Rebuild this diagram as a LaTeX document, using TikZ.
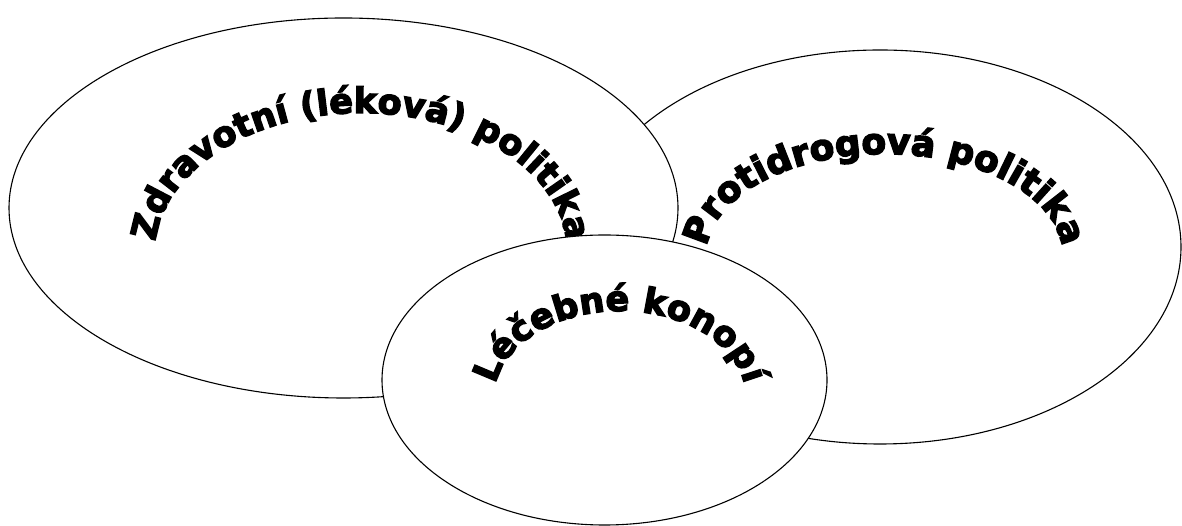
\documentclass[tikz,border=0pt]{standalone}
\usepackage{fontspec}
\usetikzlibrary{decorations.text}
\newfontfamily\wafont{DejaVu Sans Bold}[FakeBold=4]
\tikzset{
  setbox/.style={draw=black, line width=1.1pt, fill=white},
  arctext/.style={decorate, decoration={text along path, text align=center, text={#1}}}
}
\begin{document}
\begin{tikzpicture}[x=1pt,y=1pt]
\useasboundingbox (0,0) rectangle (1182,526);
% right ellipse (behind)
\path[setbox] (880,279) ellipse[x radius=301, y radius=197];
% left ellipse
\path[setbox] (343.5,318) ellipse[x radius=334.5, y radius=190];
% texts of the two big sets
\path[arctext={|\wafont\fontsize{35}{35}\selectfont|Zdravotní (léková) politika}]
  (361,274) ++(177:206 and 139) arc[start angle=177, end angle=3, x radius=206, y radius=139];
\path[arctext={|\wafont\fontsize{36}{36}\selectfont|Protidrogová politika}]
  (884.5,271) ++(177:178 and 101) arc[start angle=177, end angle=3, x radius=178, y radius=101];
% bottom ellipse (front)
\path[setbox] (604.5,146) ellipse[x radius=222.5, y radius=145];
\path[arctext={|\wafont\fontsize{35}{35}\selectfont|Léčebné konopí}]
  (620,128) ++(177:126 and 87) arc[start angle=177, end angle=3, x radius=126, y radius=87];
\end{tikzpicture}
\end{document}
